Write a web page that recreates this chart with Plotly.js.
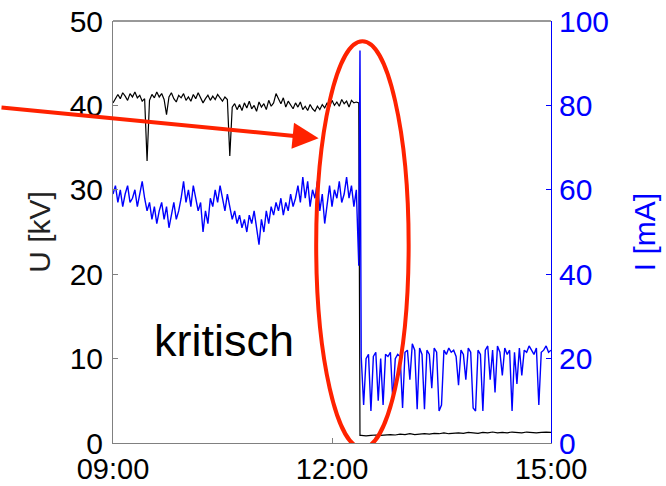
<!DOCTYPE html>
<html>
<head>
<meta charset="utf-8">
<script src="https://cdn.plot.ly/plotly-3.0.1.min.js"></script>
<style>html,body{margin:0;padding:0;background:#fff;}#chart{width:666px;height:486px;}</style>
</head>
<body>
<div id="chart"></div>
<script>
// ---- data ----
const day = '2020-01-01';
// U [kV] before the event, every 2 min from 09:00
const uPre = [40.3, 40.9, 41.3, 40.8, 41.5, 41.1, 40.6, 41.4, 41.0, 41.6, 40.9, 41.2, 40.5, 40.8,
  33.4,
  40.6, 41.3, 40.9, 41.6, 41.0, 41.4, 40.7,
  38.9,
  41.0, 41.5, 40.8, 40.4, 41.2, 40.9, 41.4, 40.6, 41.0, 40.5, 41.3, 40.8, 41.5, 40.9, 40.3, 40.8, 41.2, 40.6, 41.1, 40.7, 41.3, 40.9, 40.5, 41.0, 40.7,
  34.0,
  39.8, 40.2, 39.5, 40.1, 39.4, 40.3, 39.7, 40.5, 39.6, 40.0, 39.3, 40.4, 39.8, 40.2, 39.5, 40.6, 39.9, 40.3, 41.4, 40.8,
  40.2, 40.9, 39.8, 40.5, 40.0, 39.6, 40.3, 39.8, 40.4, 39.5, 39.9, 39.4, 40.1, 39.6, 39.3, 39.9,
  39.5, 40.1, 39.7, 40.3, 39.8, 40.6, 40.0, 40.4, 39.9, 40.7, 40.2, 40.5, 39.8, 40.6, 40.3, 40.4];
// I [mA] before the event, every 2 min from 09:00
const iPre = [59, 61, 57, 60, 56, 59, 61, 57, 58,
  60, 56, 59, 62, 58, 55, 57,
  53, 56, 52, 55, 57, 53, 56, 51, 54, 57, 53, 55,
  58, 62, 57, 60, 56, 61, 58, 55,
  57, 50, 55, 52, 58, 56,
  60, 57, 61, 58, 55, 59, 56,
  53, 55, 52, 54, 51, 53, 50, 54, 52, 55,
  51, 47, 53, 50, 55, 52, 56,
  54, 57, 55, 58, 54, 57, 55, 59, 56, 58,
  61, 57, 63, 58, 62, 56, 60,
  58, 62, 55, 59, 52, 57, 61, 56, 60, 58, 62, 57, 59,
  63, 58, 61, 56, 60];
// the breakdown
const transTimes = ['12:22', '12:23'];
const uTrans = [40.3, 0.9];
const iTrans = [42, 93];
// after the event
const uPost = [0.9, 0.85, 0.9, 0.95, 0.9, 0.95, 1.0, 0.95, 1.05, 1.0, 1.1, 1.0, 1.05, 1.1, 1.05, 1.15, 1.1, 1.2, 1.1, 1.15,
  1.2, 1.15, 1.25, 1.2, 1.15, 1.25, 1.2, 1.3, 1.2, 1.25, 1.2, 1.3, 1.25, 1.2, 1.3, 1.25, 1.2, 1.25, 1.3, 1.25]; // every 4 min from 12:24
const iPost = [20.5, 9, 20, 21, 7.6, 20.5, 21.5, 10, 20, 9, 21, 20.5, 21.5, 10, 20, 21, 20.5, 8.3, 21.5, 22,
  15, 23.5, 22, 8, 22.5, 21, 8, 22, 21, 13, 22.5, 21.5, 7.6, 9, 22, 21, 22.5, 21.5, 22, 20.5,
  13.7, 22, 21, 15, 22.5, 21.5, 8.3, 7.6, 22, 21, 7.6, 22, 23, 15, 22, 12, 23, 21.5, 16, 22.5,
  21, 22, 7.6, 21.5, 14, 22.5, 16, 22, 21.5, 23, 22, 21, 22.5, 9, 21.5, 22, 23, 21.5, 22]; // every 2 min from 12:24
const xTicks = ['09:00', '12:00', '15:00'];
const annText = 'kritisch';

// ---- helpers ----
function t(hm) { return day + ' ' + hm; }
function series(startHM, stepMin, n) {
  const [h, m] = startHM.split(':').map(Number);
  const out = [];
  for (let k = 0; k < n; k++) {
    const tot = h * 60 + m + k * stepMin;
    const hh = String(Math.floor(tot / 60)).padStart(2, '0');
    const mm = String(tot % 60).padStart(2, '0');
    out.push(day + ' ' + hh + ':' + mm);
  }
  return out;
}

const uX = series('09:00', 2, uPre.length).concat(transTimes.map(t), series('12:24', 4, uPost.length));
const uY = uPre.concat(uTrans, uPost);
const iX = series('09:00', 2, iPre.length).concat(transTimes.map(t), series('12:24', 2, iPost.length));
const iY = iPre.concat(iTrans, iPost);

const FONT = 'Liberation Sans, Arial, sans-serif';
const BLUE = '#0000ff';
const RED = '#ff2200';

const traces = [
  {x: uX, y: uY, type: 'scatter', mode: 'lines', line: {color: '#000000', width: 1.2}, yaxis: 'y', hoverinfo: 'skip'},
  {x: iX, y: iY, type: 'scatter', mode: 'lines', line: {color: BLUE, width: 1.4}, yaxis: 'y2', hoverinfo: 'skip'}
];

const layout = {
  width: 666, height: 486,
  margin: {l: 113, r: 115, t: 21, b: 43, pad: 0},
  paper_bgcolor: '#ffffff', plot_bgcolor: '#ffffff',
  showlegend: false,
  font: {family: FONT, size: 30, color: '#000000'},
  xaxis: {
    type: 'date', range: [t('09:00'), t('15:00')],
    tickvals: xTicks.map(t), ticktext: xTicks,
    ticks: 'inside', ticklen: 5, tickcolor: '#808080',
    showline: true, linecolor: '#808080', linewidth: 1, mirror: false,
    showgrid: false, zeroline: false,
    tickfont: {family: FONT, size: 29, color: '#000000'},
    ticklabelstandoff: 0
  },
  yaxis: {
    range: [0, 50], tickvals: [0, 10, 20, 30, 40, 50],
    ticks: 'inside', ticklen: 5, tickcolor: '#808080',
    showline: true, linecolor: '#808080', linewidth: 1,
    showgrid: false, zeroline: false,
    tickfont: {family: FONT, size: 30, color: '#000000'},
    ticklabelstandoff: 3,
    title: {text: 'U [kV]', font: {family: FONT, size: 30, color: '#222222'}, standoff: 10}
  },
  yaxis2: {
    overlaying: 'y', side: 'right',
    range: [0, 100], tickvals: [0, 20, 40, 60, 80, 100],
    ticks: 'inside', ticklen: 5, tickcolor: BLUE,
    showline: true, linecolor: BLUE, linewidth: 1,
    showgrid: false, zeroline: false,
    tickfont: {family: FONT, size: 30, color: BLUE},
    ticklabelstandoff: 1,
    title: {text: 'I [mA]', font: {family: FONT, size: 30, color: BLUE}, standoff: 25}
  },
  shapes: [
    {type: 'line', xref: 'paper', yref: 'paper', x0: 0, x1: 1, y0: 1, y1: 1, line: {color: '#333333', width: 1}},
    {type: 'circle', xref: 'x', yref: 'y', x0: t('11:47'), x1: t('13:03'), y0: -0.6, y1: 47.6,
     line: {color: RED, width: 4}}
  ],
  annotations: [
    {x: t('10:31'), y: 12.1, xref: 'x', yref: 'y', text: annText, showarrow: false,
     font: {family: FONT, size: 45, color: '#000000'}},
    {x: t('11:49'), y: 36.1, xref: 'x', yref: 'y', text: '', showarrow: true,
     ax: -320, ay: -31, arrowhead: 2, arrowsize: 1.3, arrowwidth: 4, arrowcolor: RED, standoff: 0}
  ]
};

Plotly.newPlot('chart', traces, layout, {staticPlot: true, displayModeBar: false});
</script>
</body>
</html>
